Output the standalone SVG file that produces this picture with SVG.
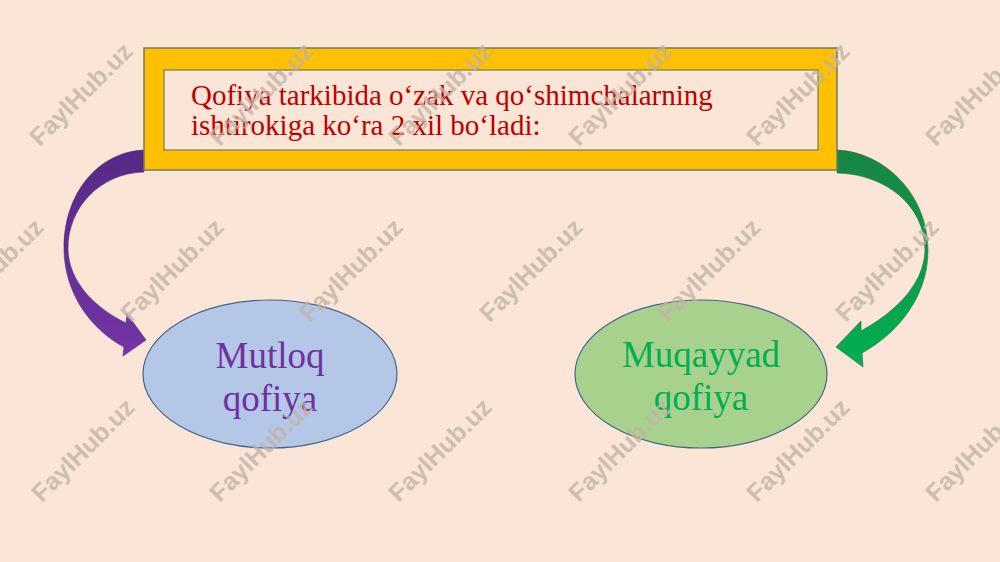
<svg xmlns="http://www.w3.org/2000/svg" width="1000" height="562" viewBox="0 0 1000 562">
<style>
.title{font-family:"Liberation Serif","Times New Roman",serif;font-size:29px;fill:#c00000}
.lbl{font-family:"Liberation Serif","Times New Roman",serif;font-size:37px;text-anchor:middle}
.ell{stroke:#41668e;stroke-width:1.2}
.wm{font-family:"Liberation Sans",Arial,sans-serif;font-weight:bold;font-size:25px;fill:#c2b3a6;fill-opacity:0.8;text-anchor:middle}
</style>
<defs>
<linearGradient id="gp" x1="0" y1="0" x2="0" y2="1">
<stop offset="0" stop-color="#552a86"/>
<stop offset="1" stop-color="#7434a6"/>
</linearGradient>
<linearGradient id="gg" x1="0" y1="0" x2="0" y2="1">
<stop offset="0" stop-color="#198447"/>
<stop offset="1" stop-color="#00b050"/>
</linearGradient>
</defs>
<rect width="1000" height="562" fill="#fbe5d6"/>
<g id="connectors">
<path d="M144,150 C97,152 63,195 64,250 C65,295 92,330 124,347 L123,356 L146,340 L127,314 L126,323 C95,308 69,282 68,250 C67,208 100,173 144,172 Z" fill="url(#gp)" stroke="#4a2a78" stroke-width="0.6"/>
<path d="M837,150 C885,152 928,195 928,250 C928,295 900,332 862,353 L863,367 L836,347 L861,321 L861,331 C895,312 924,285 925,250 C925,205 885,174 837,173 Z" fill="url(#gg)" stroke="#1a6e3e" stroke-width="0.6"/>
</g>
<g id="title">
<rect x="144" y="48" width="693" height="122" fill="#ffc000" stroke="#6f7f5a" stroke-width="1.5"/>
<rect x="164" y="70" width="654" height="80" fill="#fbe5d6" stroke="#6f7f5a" stroke-width="1.2"/>
<text class="title" x="191" y="105">Qofiya tarkibida o‘zak va qo‘shimchalarning</text>
<text class="title" x="191" y="135">ishtirokiga ko‘ra 2 xil bo‘ladi:</text>
</g>
<g id="mutloq">
<ellipse class="ell" cx="270" cy="374" rx="127" ry="74" fill="#b4c7e7"/>
<text class="lbl" x="270" y="368" fill="#7030a0">Mutloq</text>
<text class="lbl" x="270" y="411" fill="#7030a0">qofiya</text>
</g>
<g id="muqayyad">
<ellipse class="ell" cx="701" cy="374" rx="126" ry="74" fill="#a9d18e"/>
<text class="lbl" x="701" y="367" fill="#00b050">Muqayyad</text>
<text class="lbl" x="701" y="410" fill="#00b050">qofiya</text>
</g>
<g id="watermarks">
<text class="wm" transform="translate(87,100) rotate(-45)">FaylHub.uz</text>
<text class="wm" transform="translate(267,100) rotate(-45)">FaylHub.uz</text>
<text class="wm" transform="translate(446,100) rotate(-45)">FaylHub.uz</text>
<text class="wm" transform="translate(626,100) rotate(-45)">FaylHub.uz</text>
<text class="wm" transform="translate(804,100) rotate(-45)">FaylHub.uz</text>
<text class="wm" transform="translate(983,100) rotate(-45)">FaylHub.uz</text>
<text class="wm" transform="translate(-2,276) rotate(-45)">FaylHub.uz</text>
<text class="wm" transform="translate(178,276) rotate(-45)">FaylHub.uz</text>
<text class="wm" transform="translate(357,276) rotate(-45)">FaylHub.uz</text>
<text class="wm" transform="translate(537,276) rotate(-45)">FaylHub.uz</text>
<text class="wm" transform="translate(715,276) rotate(-45)">FaylHub.uz</text>
<text class="wm" transform="translate(893,276) rotate(-45)">FaylHub.uz</text>
<text class="wm" transform="translate(89,456) rotate(-45)">FaylHub.uz</text>
<text class="wm" transform="translate(267,456) rotate(-45)">FaylHub.uz</text>
<text class="wm" transform="translate(446,456) rotate(-45)">FaylHub.uz</text>
<text class="wm" transform="translate(626,456) rotate(-45)">FaylHub.uz</text>
<text class="wm" transform="translate(804,456) rotate(-45)">FaylHub.uz</text>
<text class="wm" transform="translate(983,456) rotate(-45)">FaylHub.uz</text>
</g>
</svg>
